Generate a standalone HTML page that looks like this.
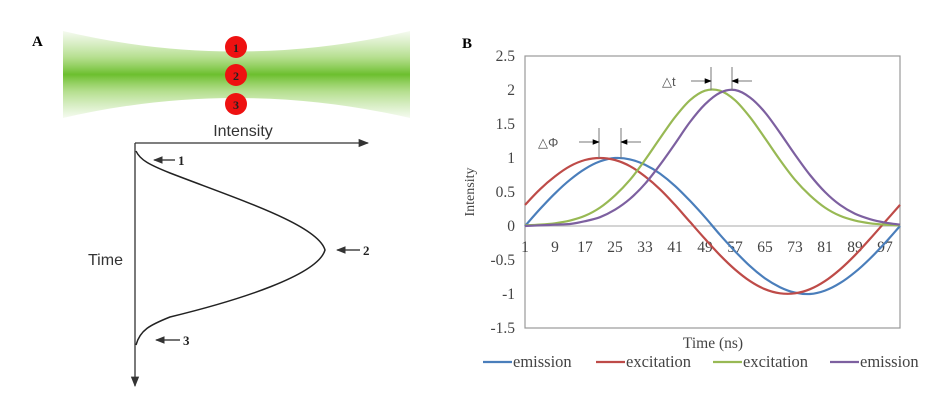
<!DOCTYPE html>
<html><head><meta charset="utf-8"><style>
html,body{margin:0;padding:0;background:#fff;}
svg{display:block;}
</style></head><body>
<svg id="fig" width="950" height="400" viewBox="0 0 950 400" xmlns="http://www.w3.org/2000/svg">
<defs>
<linearGradient id="beamG" x1="0" y1="0" x2="0" y2="1">
<stop offset="0" stop-color="#9bd46a" stop-opacity="0.1"/>
<stop offset="0.3" stop-color="#8fce55" stop-opacity="0.65"/>
<stop offset="0.5" stop-color="#6cbf2e" stop-opacity="1"/>
<stop offset="0.7" stop-color="#8fce55" stop-opacity="0.65"/>
<stop offset="1" stop-color="#9bd46a" stop-opacity="0.1"/>
</linearGradient>
<marker id="ah" viewBox="0 0 10 10" refX="9" refY="5" markerWidth="8" markerHeight="8" orient="auto-start-reverse"><path d="M0,1 L10,5 L0,9 z" fill="#333"/></marker>
<marker id="ab" viewBox="0 0 10 10" refX="9" refY="5" markerWidth="7" markerHeight="7" orient="auto"><path d="M0,1 L10,5 L0,9 z" fill="#000"/></marker>
</defs>
<g>
<text x="32" y="46" font-family="Liberation Serif, serif" font-weight="bold" font-size="15">A</text>
<path d="M63,31 Q236,72 410,31 L410,118 Q236,78 63,118 Z" fill="url(#beamG)"/>
<g font-family="Liberation Serif, serif" font-weight="bold" font-size="12" text-anchor="middle">
<circle cx="236" cy="47" r="11" fill="#ee1111"/>
<text x="236" y="52" fill="#222">1</text>
<circle cx="236" cy="75" r="11" fill="#ee1111"/>
<text x="236" y="80" fill="#222">2</text>
<circle cx="236" cy="104" r="11" fill="#ee1111"/>
<text x="236" y="109" fill="#222">3</text>
</g>
<text x="243" y="136" text-anchor="middle" font-family="Liberation Sans, sans-serif" font-size="16" fill="#333">Intensity</text>
<line x1="135" y1="143" x2="368" y2="143" stroke="#333" stroke-width="1.3" marker-end="url(#ah)"/>
<line x1="135" y1="143" x2="135" y2="386" stroke="#333" stroke-width="1.3" marker-end="url(#ah)"/>
<text x="88" y="265" font-family="Liberation Sans, sans-serif" font-size="16" fill="#333">Time</text>
<path d="M136,151 C140,160 150,165 170,173 C240,200 318,225 325,250 C318,275 240,300 170,317 C150,325 140,330 136,345" fill="none" stroke="#222" stroke-width="1.5"/>
<g font-family="Liberation Serif, serif" font-weight="bold" font-size="13" fill="#222">
<line x1="175" y1="160" x2="154" y2="160" stroke="#222" stroke-width="1.2" marker-end="url(#ah)"/>
<text x="178" y="165">1</text>
<line x1="360" y1="250" x2="337" y2="250" stroke="#222" stroke-width="1.2" marker-end="url(#ah)"/>
<text x="363" y="255">2</text>
<line x1="180" y1="340" x2="156" y2="340" stroke="#222" stroke-width="1.2" marker-end="url(#ah)"/>
<text x="183" y="345">3</text>
</g>
</g>
<text x="462" y="48" font-family="Liberation Serif, serif" font-weight="bold" font-size="15">B</text>
<g id="chart"></g>
</svg>
<script>
const timeSamples = [1,5,9,13,17,21,25,29,33,37,41,45,49,53,57,61,65,69,73,77,81,85,89,93,97,101];
const xTickLabels = ["1","9","17","25","33","41","49","57","65","73","81","89","97"];
const yTickValues = [2.5,2,1.5,1,0.5,0,-0.5,-1,-1.5];
const seriesNames = ["emission","excitation","excitation","emission"];
const seriesColors = ["#4a7ebb","#be4b48","#98b954","#7d60a0"];
const emission1 = [0,0.25,0.48,0.68,0.84,0.95,1.0,0.98,0.90,0.77,0.59,0.37,0.13,-0.13,-0.37,-0.59,-0.77,-0.90,-0.98,-1.0,-0.95,-0.84,-0.68,-0.48,-0.25,0];
const excitation1 = [0.31,0.54,0.73,0.88,0.97,1.0,0.97,0.88,0.73,0.54,0.31,0.06,-0.19,-0.43,-0.64,-0.81,-0.93,-0.99,-0.99,-0.93,-0.81,-0.64,-0.43,-0.19,0.06,0.31];
const excitation2 = [0.01,0.02,0.04,0.08,0.15,0.27,0.45,0.68,0.97,1.29,1.60,1.85,1.99,1.99,1.85,1.60,1.29,0.97,0.68,0.45,0.27,0.15,0.08,0.04,0.02,0.01];
const emission2 = [0,0.01,0.02,0.03,0.07,0.13,0.24,0.40,0.62,0.90,1.21,1.53,1.79,1.96,2.0,1.89,1.67,1.37,1.05,0.75,0.50,0.31,0.18,0.10,0.05,0.02];
const allSeries = [emission1, excitation1, excitation2, emission2];

const NS = "http://www.w3.org/2000/svg";
const L=525, R=900, T=56, B=328, yMin=-1.5, yMax=2.5, tMin=1, tMax=101;
function xs(t){return L+(t-tMin)/(tMax-tMin)*(R-L);}
function ys(v){return B-(v-yMin)/(yMax-yMin)*(B-T);}
const g=document.getElementById('chart');
function mk(tag,attrs,parent){const e=document.createElementNS(NS,tag);for(const k in attrs)e.setAttribute(k,attrs[k]);(parent||g).appendChild(e);return e;}

const frame=mk('rect',{x:L,y:T,width:R-L,height:B-T,fill:'none',stroke:'#999','stroke-width':1.2});


const zl=mk('line',{x1:L,x2:R,y1:ys(0),y2:ys(0),stroke:'#bbb','stroke-width':1.2});



yTickValues.forEach(v=>{
  const t=mk('text',{x:515,y:ys(v)+5,'text-anchor':'end','font-family':'Liberation Serif, serif','font-size':15.5,fill:'#444'});
  t.textContent=String(v);
  
  
});
xTickLabels.forEach(s=>{
  const t=mk('text',{x:xs(+s),y:ys(0)+26,'text-anchor':'middle','font-family':'Liberation Serif, serif','font-size':15.5,fill:'#444'});
  t.textContent=s;
  
  
});
const yt=mk('text',{transform:'translate(474,'+((T+B)/2)+') rotate(-90)','text-anchor':'middle','font-family':'Liberation Serif, serif','font-size':14,fill:'#444'});
yt.textContent='Intensity';


const xt=mk('text',{x:713,y:348,'text-anchor':'middle','font-family':'Liberation Serif, serif','font-size':15.5,fill:'#444'});
xt.textContent='Time (ns)';



function smoothPath(pts){
  let d='M'+pts[0][0].toFixed(1)+','+pts[0][1].toFixed(1);
  for(let i=0;i<pts.length-1;i++){
    const p0=pts[Math.max(0,i-1)],p1=pts[i],p2=pts[i+1],p3=pts[Math.min(pts.length-1,i+2)];
    const c1x=p1[0]+(p2[0]-p0[0])/6,c1y=p1[1]+(p2[1]-p0[1])/6;
    const c2x=p2[0]-(p3[0]-p1[0])/6,c2y=p2[1]-(p3[1]-p1[1])/6;
    d+=' C'+c1x.toFixed(1)+','+c1y.toFixed(1)+' '+c2x.toFixed(1)+','+c2y.toFixed(1)+' '+p2[0].toFixed(1)+','+p2[1].toFixed(1);
  }
  return d;
}
const lineNames=['emission-line-1','excitation-line-1','excitation-line-2','emission-line-2'];
allSeries.forEach((vals,i)=>{
  const pts=vals.map((v,j)=>[xs(timeSamples[j]),ys(v)]);
  const p=mk('path',{d:smoothPath(pts),fill:'none',stroke:seriesColors[i],'stroke-width':2.2});
  
  
});

const legX=[483,596,713,830];
seriesNames.forEach((n,i)=>{
  const l=mk('line',{x1:legX[i],x2:legX[i]+29,y1:362,y2:362,stroke:seriesColors[i],'stroke-width':2.2});
  
  
  const t=mk('text',{x:legX[i]+30,y:367,'font-family':'Liberation Serif, serif','font-size':16.5,fill:'#444'});
  t.textContent=n;
  
  
});

function ann(x1,x2,y0,y1,ay,label,lx,name){
  const a=mk('g',{});
  
  
  mk('line',{x1:x1,x2:x1,y1:y0,y2:y1,stroke:'#777','stroke-width':1},a);
  mk('line',{x1:x2,x2:x2,y1:y0,y2:y1,stroke:'#777','stroke-width':1},a);
  mk('line',{x1:x1-20,x2:x1,y1:ay,y2:ay,stroke:'#777','stroke-width':1,'marker-end':'url(#ab)'},a);
  mk('line',{x1:x2+20,x2:x2,y1:ay,y2:ay,stroke:'#777','stroke-width':1,'marker-end':'url(#ab)'},a);
  const t=mk('text',{x:lx,y:ay+5,'font-family':'Liberation Sans, DejaVu Sans, sans-serif','font-size':13,fill:'#555'},a);
  t.textContent=label;
}
ann(599,621,128,158,142,'\u25B3\u03A6',538,'phase-shift-annotation');
ann(711,732,67,90,81,'\u25B3t',662,'time-shift-annotation');
</script>
</body></html>
